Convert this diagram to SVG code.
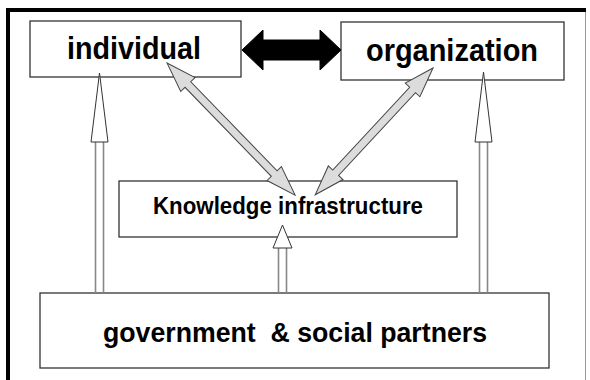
<svg xmlns="http://www.w3.org/2000/svg" width="590" height="380" viewBox="0 0 590 380">
<style>
.box{fill:#fff;stroke:#333;stroke-width:1.3}
.lbl{font-family:"Liberation Sans",Arial,sans-serif;font-weight:bold;fill:#000;text-anchor:middle}
.gray{fill:#dcdcdc;stroke:#444;stroke-width:1}
.shaft{stroke:#888;stroke-width:1.6;fill:none}
.head{fill:#fff;stroke:#333;stroke-width:1}
</style>
<rect x="0" y="0" width="590" height="380" fill="#fff"/>
<g id="frame">
<line x1="585.5" y1="10" x2="585.5" y2="380" stroke="#999" stroke-width="1"/>
<line x1="6" y1="10" x2="586" y2="10" stroke="#000" stroke-width="4"/>
<line x1="8" y1="8" x2="8" y2="380" stroke="#000" stroke-width="4"/>
</g>
<g id="individual">
<rect class="box" x="30" y="21" width="211" height="56"/>
<text class="lbl" x="134" y="59" font-size="31" textLength="134" lengthAdjust="spacingAndGlyphs">individual</text>
</g>
<g id="organization">
<rect class="box" x="341" y="22" width="223" height="58"/>
<text class="lbl" x="452" y="61" font-size="31" textLength="172" lengthAdjust="spacingAndGlyphs">organization</text>
</g>
<g id="knowledge">
<rect class="box" x="119" y="181" width="338" height="56"/>
<text class="lbl" x="288" y="214" font-size="23" textLength="270" lengthAdjust="spacingAndGlyphs">Knowledge infrastructure</text>
</g>
<g id="government">
<rect class="box" x="40" y="293" width="509" height="75"/>
<text class="lbl" x="295" y="342" font-size="28" textLength="384" lengthAdjust="spacingAndGlyphs" xml:space="preserve">government  &amp; social partners</text>
</g>
<g id="connectors">
<polygon fill="#000" stroke="#000" stroke-width="1" points="242,50 263,30 263,40 320,40 320,30 341,50 320,70 320,60 263,60 263,70"/>
<polygon class="gray" transform="translate(167,63) rotate(45.88)" points="0,0 30,-10 30,-4 154,-4 154,-10 184,0 154,10 154,4 30,4 30,10"/>
<polygon class="gray" transform="translate(433,68) rotate(132.9)" points="0,0 30,-10 30,-4 143,-4 143,-10 173,0 143,10 143,4 30,4 30,10"/>
<line class="shaft" x1="95.5" y1="142" x2="95.5" y2="293"/>
<line class="shaft" x1="103.5" y1="142" x2="103.5" y2="293"/>
<polygon class="head" points="99.5,73 108,142 91,142"/>
<line class="shaft" x1="479.5" y1="142" x2="479.5" y2="293"/>
<line class="shaft" x1="487.5" y1="142" x2="487.5" y2="293"/>
<polygon class="head" points="483.5,72 492,142 475,142"/>
<line class="shaft" x1="278.5" y1="248" x2="278.5" y2="293"/>
<line class="shaft" x1="286.5" y1="248" x2="286.5" y2="293"/>
<polygon class="head" points="282.5,225 292,248 288,248 277,248 273,248"/>
</g>
</svg>
